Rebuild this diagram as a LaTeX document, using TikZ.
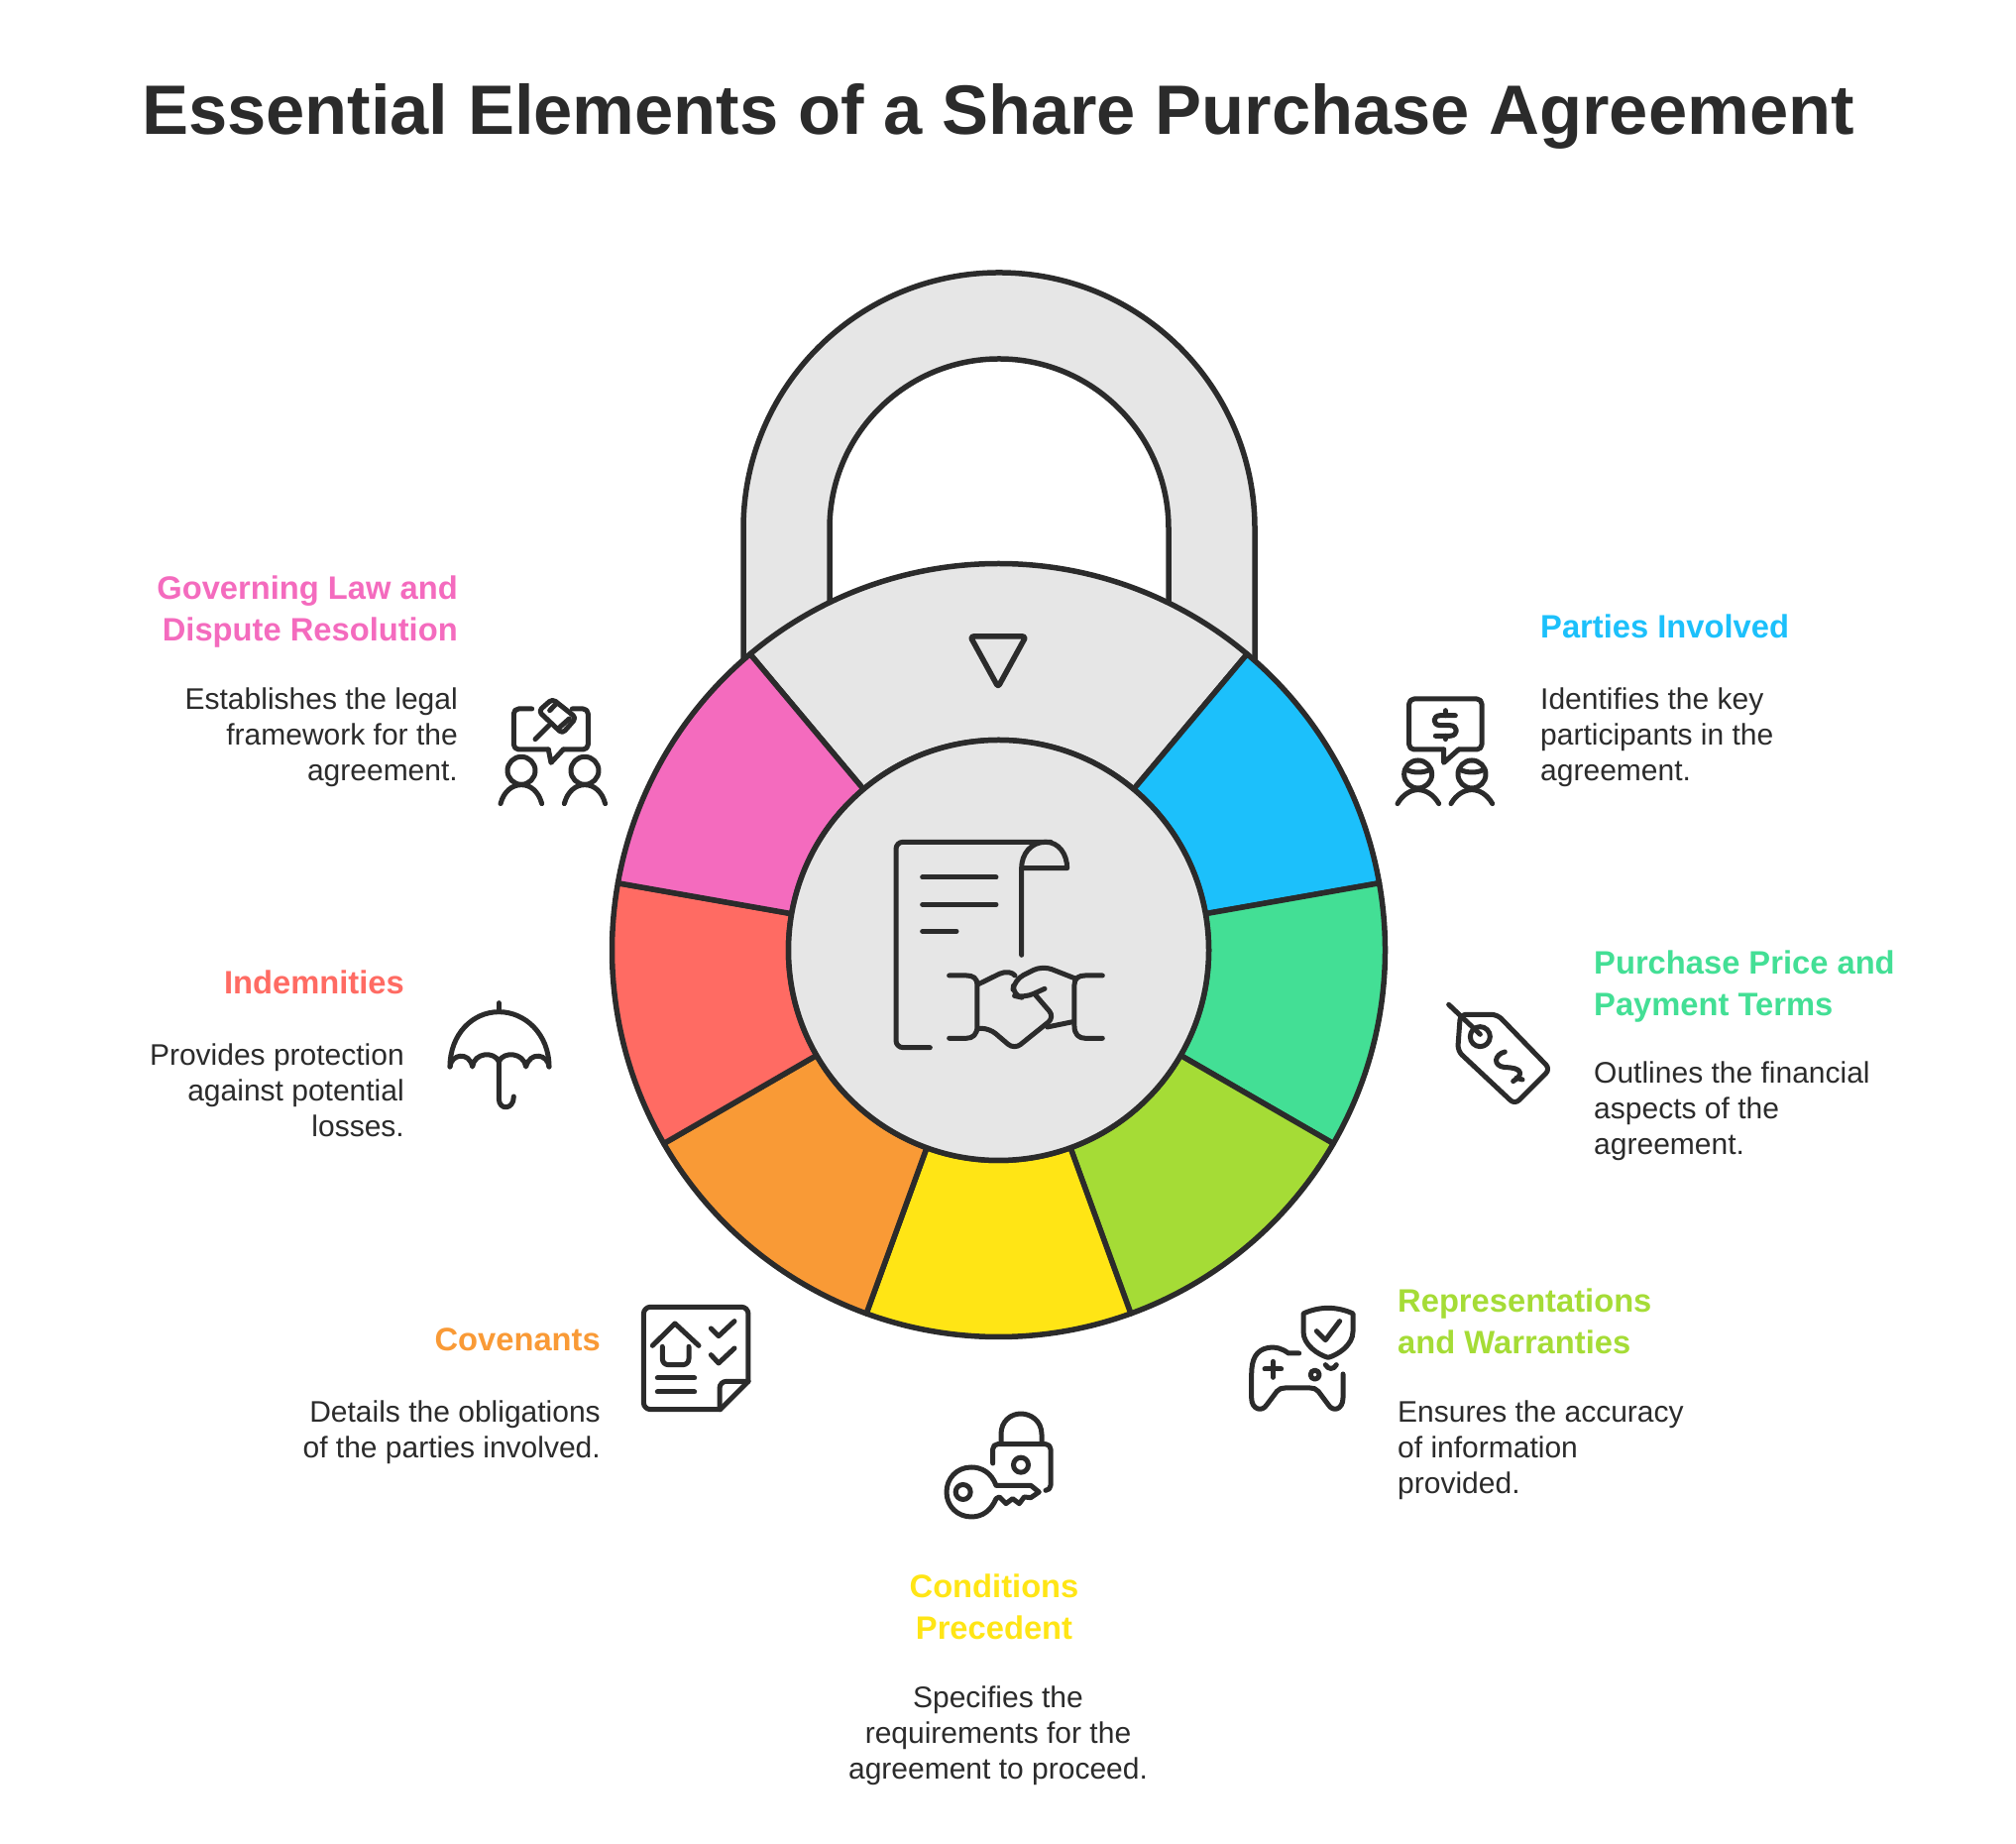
\documentclass[tikz,border=0pt]{standalone}
\usepackage{fontspec}
\setmainfont{Liberation Sans}
\definecolor{ink}{HTML}{2B2B2B}
\definecolor{lockgrey}{HTML}{E6E6E6}
\definecolor{cblue}{HTML}{1CC0FB}
\definecolor{cgreen}{HTML}{43DF95}
\definecolor{clime}{HTML}{A5DC36}
\definecolor{cyellow}{HTML}{FFE515}
\definecolor{corange}{HTML}{F99A36}
\definecolor{cred}{HTML}{FF6B63}
\definecolor{cpink}{HTML}{F46BBE}
\newcommand{\lockseg}[3]{\draw[seg,fill=#3] (#1:212) -- (#1:390) arc[start angle=#1,end angle=#2,radius=390pt] -- (#2:212) arc[start angle=#2,end angle=#1,radius=212pt] -- cycle;}
\tikzset{
  seg/.style = {draw=ink, line width=5.5pt, line join=round},
  ico/.style = {draw=ink, line width=5pt, line cap=round, line join=round},
  titletext/.style = {font=\fontsize{70.5}{84}\selectfont\bfseries, text=ink, inner sep=0pt},
  headtext/.style = {font=\fontsize{32.7}{41.5}\selectfont\bfseries, inner sep=0pt},
  bodytext/.style = {font=\fontsize{30}{36}\selectfont, text=ink, inner sep=0pt},
  zoomthree/.style = {x=0.3333pt, y=-0.3333pt}
}
\begin{document}
\begin{tikzpicture}[x=1pt, y=1pt]
	\useasboundingbox (0,0) rectangle (2034,1860);
	\node[titletext, anchor=base] (title) at (1007,1724) {Essential Elements of a Share Purchase Agreement};
	% shackle
	\draw[seg, fill=lockgrey] (750,1180) -- (750,1327) arc[start angle=180,end angle=0,radius=258pt] -- (1266,1180) -- (1179,1180) -- (1179,1327) arc[start angle=0,end angle=180,radius=171pt] -- (837,1180) -- cycle;
	% body of the lock
	\begin{scope}[shift={(1007.5,901.5)}]
		\lockseg{130}{50}{lockgrey}
		\lockseg{50}{10}{cblue}
		\lockseg{10}{-30}{cgreen}
		\lockseg{-30}{-70}{clime}
		\lockseg{-70}{-110}{cyellow}
		\lockseg{-110}{-150}{corange}
		\lockseg{-150}{-190}{cred}
		\lockseg{170}{130}{cpink}
		\draw[seg, fill=lockgrey] (0,0) circle[radius=212pt];
	\end{scope}
	\draw[seg, rounded corners=3pt] (979,1218) -- (1035,1218) -- (1007,1167) -- cycle;
	% labels
	\node[headtext, text=cpink, anchor=north east, align=right] (gov) at (462,1279) {Governing Law and\\Dispute Resolution};
	\node[bodytext, anchor=north east, align=right] (govtxt) at (462,1166) {Establishes the legal\\framework for the\\agreement.};
	\node[headtext, text=cblue, anchor=north west, align=left] (parties) at (1554,1240) {Parties Involved};
	\node[bodytext, anchor=north west, align=left] (partiestxt) at (1554,1166) {Identifies the key\\participants in the\\agreement.};
	\node[headtext, text=cgreen, anchor=north west, align=left] (price) at (1608,901) {Purchase Price and\\Payment Terms};
	\node[bodytext, anchor=north west, align=left] (pricetxt) at (1608,789) {Outlines the financial\\aspects of the\\agreement.};
	\node[headtext, text=clime, anchor=north west, align=left] (reps) at (1410,560) {Representations\\and Warranties};
	\node[bodytext, anchor=north west, align=left] (repstxt) at (1410,447) {Ensures the accuracy\\of information\\provided.};
	\node[headtext, text=cyellow, anchor=north, align=center] (cond) at (1003,272) {Conditions\\Precedent};
	\node[bodytext, anchor=north, align=center] (condtxt) at (1007,159) {Specifies the\\requirements for the\\agreement to proceed.};
	\node[headtext, text=corange, anchor=north east, align=right] (cov) at (606,521) {Covenants};
	\node[bodytext, anchor=north east, align=right] (covtxt) at (606,447) {Details the obligations\\of the parties involved.};
	\node[headtext, text=cred, anchor=north east, align=right] (indem) at (408,881) {Indemnities};
	\node[bodytext, anchor=north east, align=right] (indemtxt) at (408,807) {Provides protection\\against potential\\losses.};
	% contract and handshake
	\begin{scope}[shift={(860,1040)}, zoomthree]
		\draw[ico, rounded corners=7pt] (235,710) -- (132,710) -- (132,88) -- (600,88);
		\draw[ico] (585,88) .. controls (625,88) and (650,125) .. (650,167) -- (515,167);
		\draw[ico] (585,88) .. controls (540,88) and (512,125) .. (512,167) -- (512,430);
		\draw[ico] (212,195) -- (435,195);
		\draw[ico] (212,277) -- (435,277);
		\draw[ico] (212,358) -- (315,358);
		\draw[ico] (293,492) -- (345,492) .. controls (365,492) and (378,500) .. (378,520) -- (378,645) .. controls (378,670) and (365,682) .. (345,682) -- (293,682);
		\draw[ico] (757,492) -- (705,492) .. controls (685,492) and (672,500) .. (672,520) -- (672,645) .. controls (672,670) and (685,682) .. (705,682) -- (757,682);
		\draw[ico] (382,518) -- (445,487) .. controls (465,478) and (485,482) .. (492,492);
		\draw[ico, rounded corners=10pt] (672,500) -- (575,462) -- (490,505) -- (484,552) -- (520,560) -- (582,532);
		\draw[ico, rounded corners=8pt] (555,552) -- (612,618) -- (490,716) -- (415,652) -- (384,652);
		\draw[ico] (590,648) -- (668,632);
	\end{scope}
	% gavel icon
	\begin{scope}[shift={(480,1180)}, zoomthree]
		\draw[ico, rounded corners=5pt] (170,105) -- (115,105) -- (115,228) -- (220,228);
		\draw[ico] (220,228) -- (228,268) -- (265,228);
		\draw[ico, rounded corners=5pt] (265,228) -- (340,228) -- (340,105) -- (292,105);
		\draw[ico, rounded corners=4pt] (232,75) -- (304,132) -- (262,180) -- (190,112) -- cycle;
		\draw[ico] (224,110) -- (245,88);
		\draw[ico] (255,160) -- (283,135);
		\draw[ico] (180,197) -- (222,155);
		\draw[ico] (138,292) circle[radius=14pt];
		\draw[ico] (330,292) circle[radius=14pt];
		\draw[ico] (75,392) .. controls (85,355) and (110,335) .. (138,335) .. controls (166,335) and (190,355) .. (200,392);
		\draw[ico] (268,392) .. controls (278,355) and (302,335) .. (330,335) .. controls (358,335) and (382,355) .. (392,392);
	\end{scope}
	% dollar speech icon
	\begin{scope}[shift={(1390,1180)}, zoomthree]
		\draw[ico, rounded corners=5pt] (200,228) -- (95,228) -- (95,75) -- (315,75) -- (315,228) -- (245,228);
		\draw[ico] (245,228) -- (200,268) -- (200,228);
		\draw[ico] (235,125) -- (190,125) .. controls (165,125) and (165,155) .. (190,155) -- (218,155) .. controls (245,155) and (245,187) .. (218,187) -- (175,187);
		\draw[ico] (205,110) -- (205,125);
		\draw[ico] (205,187) -- (205,197);
		\draw[ico] (122,303) circle[radius=14pt];
		\draw[ico] (285,303) circle[radius=14pt];
		\draw[ico] (85,288) .. controls (105,300) and (140,300) .. (160,288);
		\draw[ico] (248,288) .. controls (268,300) and (303,300) .. (323,288);
		\draw[ico] (60,392) .. controls (75,365) and (100,350) .. (122,350) .. controls (145,350) and (170,365) .. (185,392);
		\draw[ico] (222,392) .. controls (237,365) and (262,350) .. (285,350) .. controls (308,350) and (332,365) .. (347,392);
	\end{scope}
	% price tag icon
	\begin{scope}[shift={(1440,860)}, zoomthree]
		\draw[ico, rounded corners=6pt] (100,70) -- (212,70) -- (372,235) -- (265,342) -- (92,180) -- cycle;
		\draw[ico] (65,40) -- (160,130);
		\draw[ico] (160,137) circle[radius=10pt];
		\draw[ico] (235,183) .. controls (205,190) and (195,225) .. (235,230) .. controls (285,230) and (295,250) .. (260,272);
		\draw[ico] (270,262) -- (288,267);
	\end{scope}
	% umbrella icon
	\begin{scope}[shift={(440,860)}, zoomthree]
		\draw[ico] (42,228) .. controls (42,130) and (110,62) .. (190,62) .. controls (270,62) and (342,130) .. (342,228);
		\draw[ico] (190,35) -- (190,62);
		\draw[ico] (42,228) .. controls (45,190) and (100,180) .. (110,228) .. controls (115,185) and (175,180) .. (190,212) .. controls (205,180) and (265,185) .. (272,228) .. controls (285,180) and (338,190) .. (342,228);
		\draw[ico] (190,212) -- (190,325) .. controls (190,360) and (235,360) .. (235,318);
	\end{scope}
	% covenants icon
	\begin{scope}[shift={(640,550)}, zoomthree]
		\draw[ico, rounded corners=7pt] (260,335) -- (28,335) -- (28,25) -- (345,25) -- (345,250);
		\draw[ico] (345,250) -- (260,335);
		\draw[ico, rounded corners=7pt] (345,250) -- (258,250) -- (258,335);
		\draw[ico] (55,142) -- (123,75) -- (195,142);
		\draw[ico, rounded corners=6pt] (85,145) -- (85,200) -- (165,200) -- (165,145);
		\draw[ico] (70,240) -- (182,240);
		\draw[ico] (70,282) -- (182,282);
		\draw[ico] (232,90) -- (255,113) -- (303,68);
		\draw[ico] (232,170) -- (255,195) -- (303,150);
	\end{scope}
	% controller and shield icon
	\begin{scope}[shift={(1250,550)}, zoomthree]
		\draw[ico] (270,28) .. controls (245,28) and (215,35) .. (195,45) -- (195,100) .. controls (195,140) and (240,170) .. (270,178) .. controls (300,170) and (345,140) .. (345,100) -- (345,45) .. controls (325,35) and (295,28) .. (270,28) -- cycle;
		\draw[ico] (235,98) -- (262,125) -- (305,68);
		\draw[ico] (182,165) -- (150,165) .. controls (130,150) and (110,145) .. (90,148) .. controls (50,155) and (38,185) .. (38,230) -- (38,300) .. controls (38,335) and (70,345) .. (85,320) -- (115,280) .. controls (122,272) and (130,270) .. (140,270) -- (215,270) .. controls (225,270) and (233,272) .. (240,280) -- (270,320) .. controls (285,345) and (315,335) .. (315,300) -- (315,228);
		\draw[ico] (103,190) -- (103,238);
		\draw[ico] (78,213) -- (128,213);
		\draw[ico] (230,230) circle[radius=4.5pt];
		\draw[ico] (262,200) .. controls (270,215) and (287,215) .. (295,200);
	\end{scope}
	% key and lock icon
	\begin{scope}[shift={(950,440)}, zoomthree]
		\draw[ico] (180,105) -- (180,80) .. controls (180,40) and (210,18) .. (240,18) .. controls (270,18) and (303,40) .. (303,80) -- (303,105);
		\draw[ico, rounded corners=5pt] (155,168) -- (155,110) -- (330,110) -- (330,250) -- (315,250);
		\draw[ico] (240,173) circle[radius=7.5pt];
		\draw[ico] (65,255) circle[radius=7.5pt];
		\draw[ico] (165,235) -- (270,235) -- (295,255) -- (270,272) -- (250,270) -- (235,290) -- (215,275) -- (195,290) -- (175,270) -- (165,275) .. controls (150,310) and (125,330) .. (90,330) .. controls (50,330) and (15,300) .. (15,255) .. controls (15,215) and (45,180) .. (90,180) .. controls (120,180) and (150,195) .. (165,235);
	\end{scope}
\end{tikzpicture}
\end{document}
